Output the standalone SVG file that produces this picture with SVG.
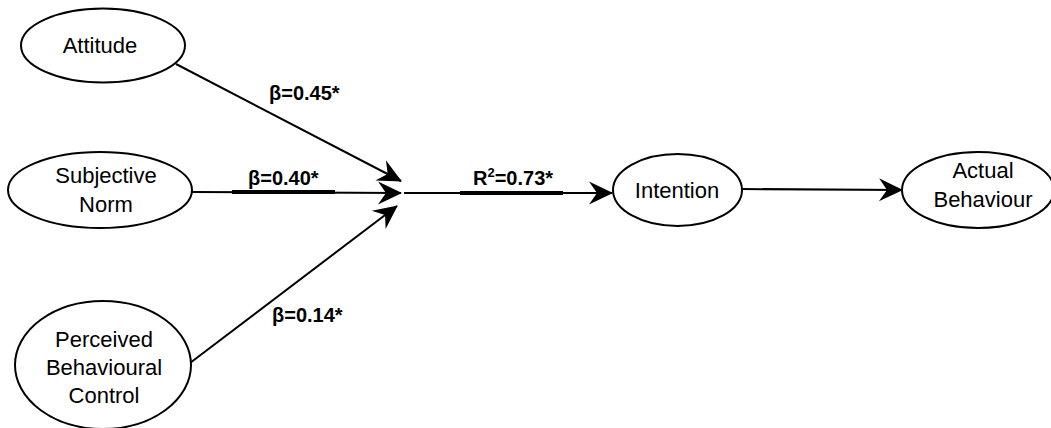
<svg xmlns="http://www.w3.org/2000/svg" width="1051" height="428" viewBox="0 0 1051 428">
<style>
.node ellipse{fill:#fff;stroke:#000;stroke-width:2}
.t{font-family:"Liberation Sans",Arial,sans-serif;font-size:22px;fill:#000;text-anchor:middle}
.lbl{font-family:"Liberation Sans",Arial,sans-serif;font-size:20px;font-weight:bold;fill:#000}
.edge{stroke:#000;stroke-width:2;fill:none}
.ul{stroke:#000;stroke-width:4}
</style>
<defs>
<marker id="arr" markerUnits="userSpaceOnUse" viewBox="-24 -13 26 26" refX="0" refY="0" markerWidth="26" markerHeight="26" orient="auto">
<path d="M1,0 L-23,-11.5 L-15,0 L-23,11.5 Z" fill="#000"/>
</marker>
</defs>
<rect width="1051" height="428" fill="#fff"/>
<g id="connectors">
<line class="edge" x1="176" y1="64" x2="401" y2="181" marker-end="url(#arr)"/>
<line class="edge" x1="192" y1="192" x2="401" y2="193" marker-end="url(#arr)"/>
<line class="edge" x1="190" y1="363" x2="397" y2="206" marker-end="url(#arr)"/>
<line class="edge" x1="404" y1="193" x2="612" y2="193" marker-end="url(#arr)"/>
<line class="edge" x1="742" y1="189" x2="902" y2="190" marker-end="url(#arr)"/>
<line class="ul" x1="232" y1="192" x2="335" y2="192"/>
<line class="ul" x1="460" y1="193" x2="563" y2="193"/>
<text class="lbl" x="269" y="100">β=0.45*</text>
<text class="lbl" x="248" y="185">β=0.40*</text>
<text class="lbl" x="272" y="322">β=0.14*</text>
<text class="lbl" x="473" y="185">R<tspan font-size="13" dy="-8">2</tspan><tspan dy="8">=0.73*</tspan></text>
</g>
<g id="attitude" class="node">
<ellipse cx="103" cy="45.5" rx="82" ry="37"/>
<text class="t" x="100" y="53">Attitude</text>
</g>
<g id="subjective-norm" class="node">
<ellipse cx="100" cy="190" rx="92" ry="38"/>
<text class="t" x="106" y="183">Subjective</text>
<text class="t" x="106" y="212">Norm</text>
</g>
<g id="pbc" class="node">
<ellipse cx="103" cy="365" rx="88" ry="64"/>
<text class="t" x="104" y="347">Perceived</text>
<text class="t" x="104" y="375">Behavioural</text>
<text class="t" x="104" y="403">Control</text>
</g>
<g id="intention" class="node">
<ellipse cx="677.5" cy="190" rx="64.5" ry="36"/>
<text class="t" x="677" y="198">Intention</text>
</g>
<g id="actual-behaviour" class="node">
<ellipse cx="978" cy="190" rx="76" ry="38"/>
<text class="t" x="983" y="178">Actual</text>
<text class="t" x="983" y="207">Behaviour</text>
</g>
</svg>
